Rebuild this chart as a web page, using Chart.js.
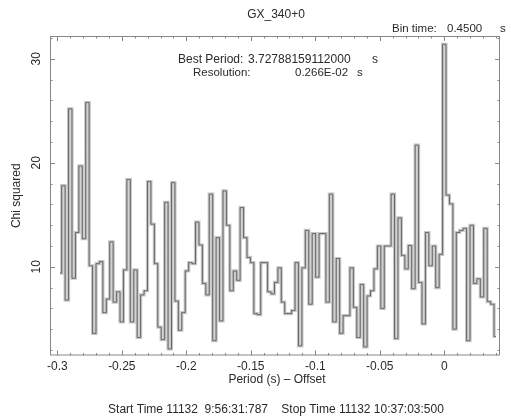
<!DOCTYPE html>
<html>
<head>
<meta charset="utf-8">
<script src="https://cdn.jsdelivr.net/npm/chart.js@4.4.1/dist/chart.umd.min.js"></script>
<style>
  body { margin: 0; background: #fff; }
  #wrap { width: 511px; height: 419px; }
</style>
</head>
<body>
<div id="wrap"><canvas id="efsearch" width="511" height="419"></canvas></div>
<script>
// chi squared per trial period (128 periods, one per resolution step)
const chiSquared = [
  9.4, 17.8, 6.8, 25.2, 8.9, 13.3, 19.7, 12.7, 25.8, 10.1,
  3.6, 10.3, 10.5, 5.6, 6.9, 12.4, 6.6, 7.6, 4.7, 9.7,
  18.4, 4.7, 9.7, 3.2, 7.3, 7.7, 18.2, 14.1, 10.3, 4.2,
  3.0, 16.2, 2.1, 18.1, 6.7, 3.9, 5.6, 9.6, 10.4, 10.3,
  14.3, 12.1, 8.4, 7.3, 17.0, 2.9, 12.8, 4.8, 17.3, 14.0,
  7.7, 9.6, 8.7, 15.7, 12.8, 10.9, 10.4, 5.5, 5.4, 10.4,
  10.4, 7.6, 7.4, 8.5, 9.9, 6.6, 5.5, 5.5, 5.8, 10.4,
  2.4, 9.9, 13.5, 6.4, 13.2, 9.0, 13.2, 13.2, 6.6, 17.0,
  4.7, 10.8, 3.6, 5.3, 5.3, 9.9, 6.1, 3.2, 8.3, 2.3,
  7.2, 7.7, 9.8, 12.0, 6.0, 12.0, 12.0, 17.0, 3.1, 14.7,
  11.1, 9.8, 12.05, 7.9, 21.7, 8.5, 4.5, 13.3, 10.1, 12.0,
  8.0, 11.2, 31.4, 16.9, 16.05, 4.0, 13.3, 13.5, 13.7, 2.9,
  14.0, 8.4, 8.85, 7.1, 13.7, 6.65, 6.4, 3.3
]
const resolution = 0.00266      // s, as printed on the plot
const bestIndex = 112           // trial that holds the best period (offset 0)
const periodOffsets = chiSquared.map((_, i) => (i - bestIndex) * resolution)

const xTicks = [-0.3, -0.25, -0.2, -0.15, -0.1, -0.05, 0]
const yTicks = [10, 20, 30]

const titleText = "GX_340+0"
const binTime = "0.4500"
const bestPeriod = "3.72788159112000"
const resolutionText = "0.266E-02"
const xTitle = "Period (s) \u2013 Offset"
const yTitle = "Chi squared"
const footer = "Start Time 11132  9:56:31:787    Stop Time 11132 10:37:03:500"

const points = periodOffsets.map((p, i) => ({x: p, y: chiSquared[i]}))

const frameAndText = {
  id: 'frameAndText',
  afterDatasetsDraw(chart) {
    const {ctx, chartArea: a, scales: {x, y}} = chart
    ctx.save()
    ctx.strokeStyle = '#888'
    ctx.lineWidth = 1
    ctx.strokeRect(a.left + 0.5, a.top + 0.5, a.width - 1, a.height - 1)

    ctx.beginPath()
    for (let k = -30; k <= 4; k++) {
      const px = Math.round(x.getPixelForValue(k / 100)) + 0.5
      const len = k % 5 === 0 ? 5 : 2.5
      ctx.moveTo(px, a.bottom); ctx.lineTo(px, a.bottom - len)
      ctx.moveTo(px, a.top); ctx.lineTo(px, a.top + len)
    }
    for (let k = 2; k <= 32; k += 2) {
      const py = Math.round(y.getPixelForValue(k)) + 0.5
      const len = k % 10 === 0 ? 5 : 2.5
      ctx.moveTo(a.left, py); ctx.lineTo(a.left + len, py)
      ctx.moveTo(a.right, py); ctx.lineTo(a.right - len, py)
    }
    ctx.stroke()

    ctx.fillStyle = '#2a2a2a'
    ctx.textBaseline = 'middle'
    ctx.font = '12px "Liberation Sans", Arial, sans-serif'

    ctx.textAlign = 'center'
    xTicks.forEach(v => {
      ctx.fillText(String(v), x.getPixelForValue(v), a.bottom + 11)
    })
    yTicks.forEach(v => {
      ctx.save()
      ctx.translate(a.left - 13, y.getPixelForValue(v))
      ctx.rotate(-Math.PI / 2)
      ctx.fillText(String(v), 0, 0)
      ctx.restore()
    })

    ctx.fillText(titleText, 276, 15)
    ctx.fillText(xTitle, (a.left + a.right) / 2 + 2, a.bottom + 24)
    ctx.save()
    ctx.translate(17, (a.top + a.bottom) / 2)
    ctx.rotate(-Math.PI / 2)
    ctx.fillText(yTitle, 0, 0)
    ctx.restore()

    ctx.textAlign = 'left'
    ctx.font = '11.5px "Liberation Sans", Arial, sans-serif'
    ctx.fillText("Bin time:", 392, 29)
    ctx.fillText(binTime, 447, 29)
    ctx.fillText("s", 500, 29)

    ctx.font = '12px "Liberation Sans", Arial, sans-serif'
    ctx.fillText("Best Period:", 178, 60)
    ctx.fillText(bestPeriod, 248, 60)
    ctx.fillText("s", 372, 60)
    ctx.font = '11.5px "Liberation Sans", Arial, sans-serif'
    ctx.fillText("Resolution:", 193, 73)
    ctx.fillText(resolutionText, 295, 73)
    ctx.fillText("s", 357, 73)

    ctx.textAlign = 'center'
    ctx.font = '12px "Liberation Sans", Arial, sans-serif'
    ctx.fillText(footer, 276, 410)
    ctx.restore()
  }
}

new Chart(document.getElementById('efsearch'), {
  type: 'line',
  data: {
    datasets: [{
      // core of the trace
      data: points,
      stepped: 'middle',
      borderColor: '#666',
      borderWidth: 1,
      pointRadius: 0,
      fill: false
    }, {
      // soft halo under it, like the original bitmap
      data: points,
      stepped: 'middle',
      borderColor: '#c6c6c6',
      borderWidth: 3.2,
      pointRadius: 0,
      fill: false
    }]
  },
  options: {
    responsive: false,
    animation: false,
    devicePixelRatio: 1,
    layout: {padding: {left: 50, top: 36, right: 11, bottom: 63.5}},
    plugins: {legend: {display: false}, tooltip: {enabled: false}},
    scales: {
      x: {type: 'linear', display: false, min: -0.30566, max: 0.04318},
      y: {type: 'linear', display: false, min: 1.47, max: 32.2}
    }
  },
  plugins: [frameAndText]
})
</script>
</body>
</html>
